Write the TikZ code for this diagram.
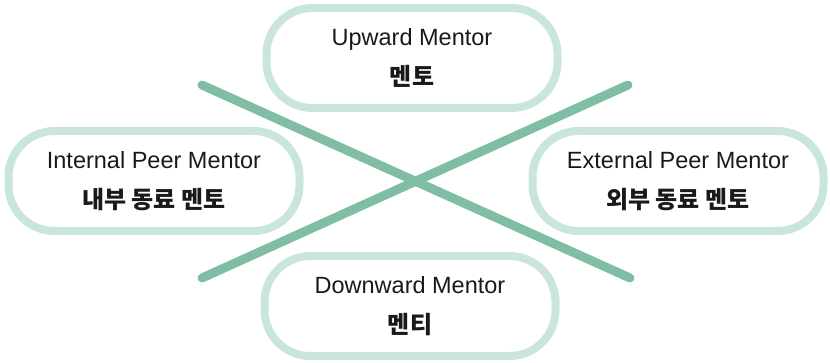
\documentclass[tikz,border=0pt]{standalone}
\usepackage{fontspec}
\setmainfont{Liberation Sans}
\newfontfamily\kor{Noto Sans CJK KR}
\usepackage{tikz}
\definecolor{crossgreen}{HTML}{7FBEA2}
\definecolor{boxgreen}{HTML}{CAE5D9}
\newcommand{\kr}[1]{{\kor\bfseries\fontsize{24}{40}\selectfont #1}}
\tikzset{
  mentorbox/.style={draw=boxgreen,line width=8pt,rounded corners=46pt,
    minimum width=291pt,minimum height=100pt,align=center,
    text=black!90,font=\fontsize{23.5}{40}\selectfont},
  crossline/.style={draw=crossgreen,line width=9pt,line cap=round}
}

\begin{document}
\begin{tikzpicture}[x=1pt,y=-1pt]
  \useasboundingbox (0,0) rectangle (830,363);
  % the cross
  \coordinate (nw) at (202,85);
  \coordinate (se) at (630,278);
  \coordinate (sw) at (202,278);
  \coordinate (ne) at (628,85);
  \draw[crossline] (nw) -- (se);
  \draw[crossline] (sw) -- (ne);
  % the four mentors
  \node[mentorbox] (up) at (412,58) {Upward Mentor\\\kr{멘토}};
  \node[mentorbox] (internal) at (154,181) {Internal Peer Mentor\\\kr{내부 동료 멘토}};
  \node[mentorbox] (external) at (678,181) {External Peer Mentor\\\kr{외부 동료 멘토}};
  \node[mentorbox] (down) at (410,306) {Downward Mentor\\\kr{멘티}};
\end{tikzpicture}
\end{document}
